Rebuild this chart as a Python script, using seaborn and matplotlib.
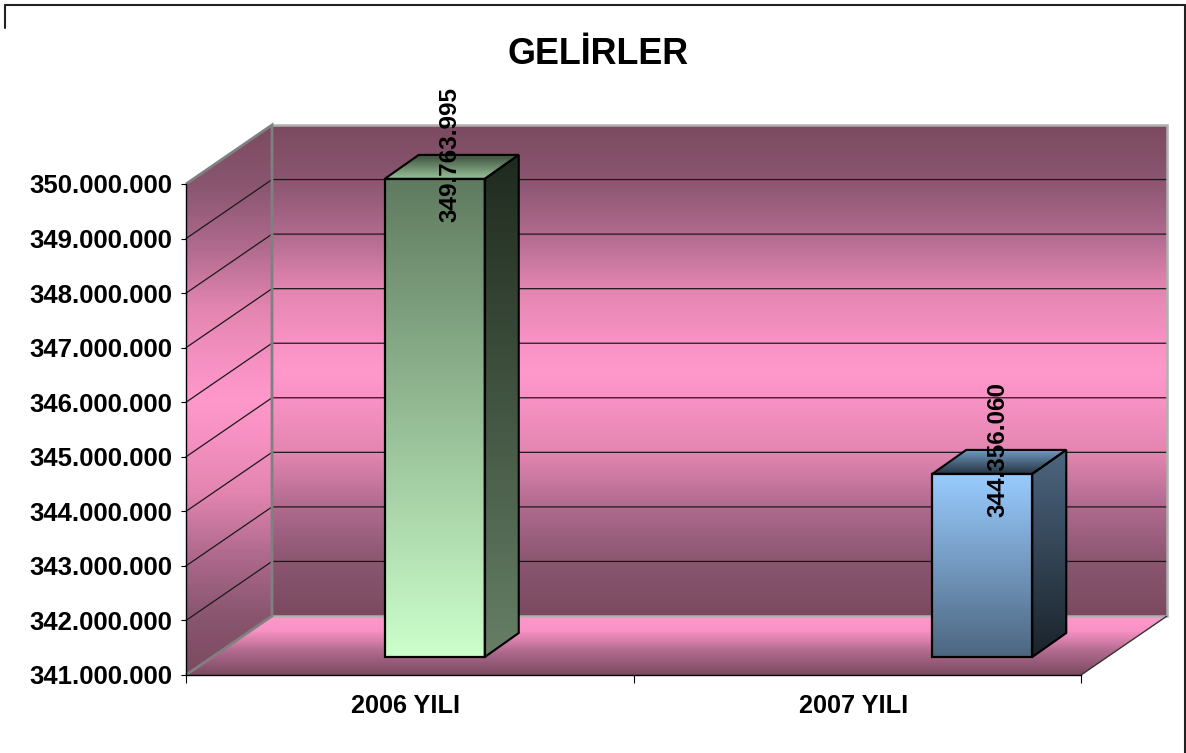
import numpy as np
import pandas as pd
import seaborn as sns
import matplotlib.pyplot as plt
from matplotlib.colors import LinearSegmentedColormap
from matplotlib.lines import Line2D
from matplotlib.patches import Polygon
from matplotlib.ticker import FuncFormatter
from matplotlib.transforms import Affine2D, IdentityTransform

years = ["2006 YILI", "2007 YILI"]
income = [349763995, 344356060]
y_ticks = [341000000, 342000000, 343000000, 344000000, 345000000,
           346000000, 347000000, 348000000, 349000000, 350000000]

W, H = 1186, 753
DARK = "#7b4a60"
PINK = "#ff99cc"
wall_colors = [(0, DARK), (0.11, "#8a5670"), (0.22, "#b06a8e"), (0.33, "#e285b0"), (0.44, "#f892c4"),
               (0.5, PINK),
               (0.56, "#f892c4"), (0.67, "#e285b0"), (0.78, "#b06a8e"), (0.89, "#8a5670"), (1, DARK)]
floor_colors = [(0, PINK), (0.25, "#f892c4"), (0.6, "#b06a8e"), (1, DARK)]
wall_depth = np.array([86, 59])
bar_shift = np.array([75, 18])
bar_depth = np.array([34, 24])

# front face, side face, top face (first colour is the upper edge on screen)
bar_colors = [
    {"front": ("#5f7a5f", "#ccffcc"), "side": ("#1f2a1e", "#667f66"), "top": ("#3d4f3d", "#99c399")},
    {"front": ("#99ccff", "#4d6680"), "side": ("#4d6680", "#1a232b"), "top": ("#7099c0", "#263340")},
]

sns.set_theme(style="white")
plt.rcParams["font.family"] = ["Liberation Sans", "DejaVu Sans"]
plt.rcParams["font.weight"] = "bold"

fig = plt.figure(figsize=(W / 100, H / 100), dpi=100, facecolor="white")
ax = fig.add_axes([186 / W, (H - 675) / H, 895 / W, 491 / H])
ax.patch.set_visible(False)

df = pd.DataFrame({"yil": years, "gelir": income})
sns.barplot(data=df, x="yil", y="gelir", hue="yil", dodge=True, width=0.447,
            legend=False, ax=ax, palette=["#ccffcc", "#99ccff"])
bars = [p for p in ax.patches if p.get_height() > 0]
ax.set_xlim(-0.5, 1.5)
ax.set_ylim(y_ticks[0], y_ticks[-1])
ax.set_autoscale_on(False)
ymin = y_ticks[0]


def px(x, y):
    return ax.transData.transform((x, y))


def shade(points, colors, zorder, y_span=None):
    # vertical gradient clipped to a polygon given in display coordinates
    points = np.array(points)
    xs, ys = points[:, 0], points[:, 1]
    low, high = y_span if y_span else (ys.min(), ys.max())
    cmap = LinearSegmentedColormap.from_list("g", colors)
    im = ax.imshow(np.linspace(0, 1, 256).reshape(-1, 1), cmap=cmap, aspect="auto",
                   origin="upper", interpolation="bilinear",
                   extent=(xs.min(), xs.max(), low, high),
                   transform=IdentityTransform(), zorder=zorder)
    im.set_clip_box(fig.bbox)
    im.set_clip_path(Polygon(points, transform=IdentityTransform()))


def outline(points, color="black", lw=1.5, zorder=4, closed=True):
    ax.add_patch(Polygon(points, closed=closed, fill=False, edgecolor=color, linewidth=lw,
                         transform=IdentityTransform(), zorder=zorder, clip_on=False,
                         joinstyle="miter"))


# walls and floor
front_bl, front_br = px(-0.5, ymin), px(1.5, ymin)
front_tl, front_tr = px(-0.5, y_ticks[-1]), px(1.5, y_ticks[-1])
back_bl, back_br = front_bl + wall_depth, front_br + wall_depth
back_tl, back_tr = front_tl + wall_depth, front_tr + wall_depth

shade([back_bl, back_br, back_tr, back_tl], wall_colors, 0.1)
shade([front_bl, back_bl, back_tl, front_tl], wall_colors, 0.1,
      y_span=(front_bl[1], back_tl[1]))
shade([front_bl, front_br, back_br, back_bl], floor_colors, 0.1)

for tick in y_ticks[1:-1]:
    a = px(-0.5, tick)
    b = a + wall_depth
    c = px(1.5, tick) + wall_depth
    ax.plot(*zip(a, b, c), color="#1a1a1a", lw=0.9, transform=IdentityTransform(),
            zorder=0.5, clip_on=False)

outline([back_tl, back_tr, back_br, back_bl], color="#b0b0b0", lw=1.8, zorder=0.55, closed=False)
outline([front_tl, back_tl, back_bl, front_bl], color="#808080", lw=2, zorder=0.6, closed=False)
outline([back_br, front_br], color="#333333", lw=1, zorder=0.6, closed=False)

# bars: seaborn's patches become the front faces, moved into the depth of the floor
for bar, style, value in zip(bars, bar_colors, income):
    x0, x1 = bar.get_x(), bar.get_x() + bar.get_width()
    bar.set_y(ymin)
    bar.set_height(value - ymin)
    bar.set_facecolor("none")
    bar.set_edgecolor("black")
    bar.set_linewidth(1.6)
    bar.set_zorder(4)
    bar.set_clip_on(False)
    bar.set_transform(ax.transData + Affine2D().translate(*bar_shift))

    bl, br = px(x0, ymin) + bar_shift, px(x1, ymin) + bar_shift
    tl, tr = px(x0, value) + bar_shift, px(x1, value) + bar_shift
    shade([bl, br, tr, tl], style["front"], 2)
    side = [br, br + bar_depth, tr + bar_depth, tr]
    shade(side, style["side"], 2, y_span=(br[1], tr[1] + bar_depth[1]))
    outline(side)
    top = [tl, tr, tr + bar_depth, tl + bar_depth]
    shade(top, style["top"], 2)
    outline(top)

    ax.annotate(f"{value:,}".replace(",", "."), xy=((x0 + x1) / 2, value),
                xytext=(90.5, 42), textcoords="offset pixels", rotation=90,
                ha="center", va="center", fontsize=17.5, fontweight="bold",
                color="black", zorder=6, annotation_clip=False)

# axes
sns.despine(ax=ax, top=True, right=True)
for side_name in ("left", "bottom"):
    ax.spines[side_name].set_color("black")
    ax.spines[side_name].set_linewidth(1)
    ax.spines[side_name].set_zorder(5)
ax.set_xlabel("")
ax.set_ylabel("")
ax.set_yticks(y_ticks)
ax.yaxis.set_major_formatter(FuncFormatter(lambda v, _: f"{int(v):,}".replace(",", ".")))
ax.set_xticks([-0.5, 0.5, 1.5])
ax.set_xticklabels([])
ax.set_xticks([0, 1], labels=years, minor=True)
ax.tick_params(axis="y", which="major", left=True, length=3.6, width=0.8, pad=6,
               labelsize=18.5, color="black", labelcolor="black")
ax.tick_params(axis="x", which="major", bottom=True, length=6, width=0.8, color="black")
ax.tick_params(axis="x", which="minor", bottom=False, length=0, pad=14, labelsize=18.2,
               labelcolor="black")
for label in ax.get_yticklabels() + ax.get_xticklabels(minor=True):
    label.set_fontweight("bold")
for label in ax.get_xticklabels(minor=True):
    label.set_transform(label.get_transform() + Affine2D().translate(-4, 0))

fig.text(598 / W, 1 - 54 / H, "GELİRLER", ha="center", va="center", fontsize=25.8,
         fontweight="bold", color="black")

# outer frame of the picture
frame = {"color": "#222222", "lw": 1.5, "transform": fig.transFigure}
fig.add_artist(Line2D([5 / W, 5 / W], [1 - 28 / H, 1 - 5 / H], **frame))
fig.add_artist(Line2D([5 / W, 1185 / W], [1 - 5 / H, 1 - 5 / H], **frame))
fig.add_artist(Line2D([1185 / W, 1185 / W], [1 - 5 / H, 0], **frame))

fig.savefig("out.png", dpi=100)
plt.close(fig)
